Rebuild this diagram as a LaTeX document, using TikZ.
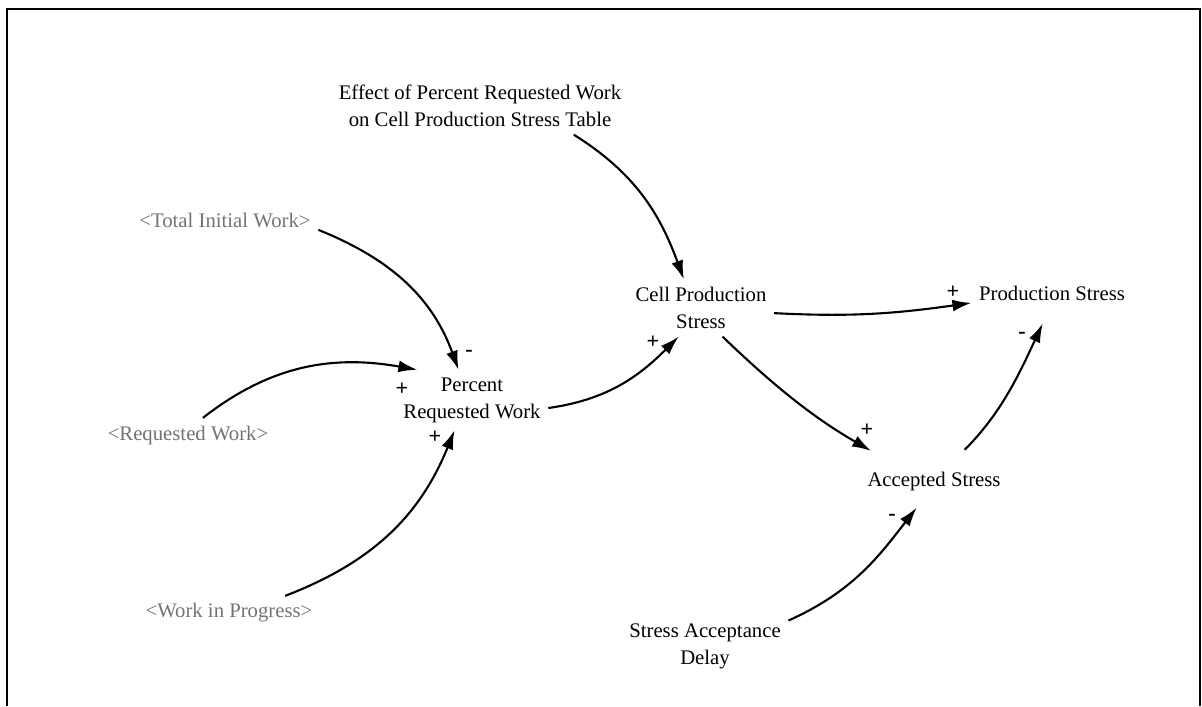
\documentclass[tikz,border=0pt]{standalone}
\usepackage{fontspec}
\setmainfont{Liberation Serif}
\usetikzlibrary{arrows.meta}

\begin{document}
\begin{tikzpicture}[x=1cm,y=1cm,
  var/.style={font=\fontsize{5.9}{7.7}\selectfont, align=center, inner sep=2pt},
  shadow/.style={var, text=black!55},
  pol/.style={font=\fontsize{6.3}{7}\selectfont\bfseries, inner sep=0pt},
  link/.style={-{Latex[length=0.19cm,width=0.12cm]}, line width=0.6pt}]
  \useasboundingbox (0,0) rectangle (12.02,7.06);
  \draw[line width=0.8pt] (0.07,0) -- (0.07,6.97) -- (12.00,6.97) -- (12.00,0);

  % variables
  \node[var] (effect) at (4.80,6.00) {Effect of Percent Requested Work\\on Cell Production Stress Table};
  \node[shadow] (total) at (2.25,4.86) {<Total Initial Work>};
  \node[shadow] (reqw) at (1.88,2.71) {<Requested Work>};
  \node[shadow] (wip) at (2.29,0.93) {<Work in Progress>};
  \node[var] (percent) at (4.72,3.06) {Percent\\Requested Work};
  \node[var] (cell) at (7.01,3.98) {Cell Production\\Stress};
  \node[var] (prod) at (10.52,4.13) {Production Stress};
  \node[var] (acc) at (9.34,2.25) {Accepted Stress};
  \node[var] (delay) at (7.05,0.60) {Stress Acceptance\\Delay};

  % causal links
  \draw[link] (effect.-17) to[out=-32,in=110] (cell.121);
  \draw[link] (total.-6) to[out=-22,in=110] (percent.114);
  \draw[link] (reqw.49) to[out=38,in=170] (percent.151);
  \draw[link] (wip.17) to[out=21,in=-112] (percent.-120);
  \draw[link] (percent.-6) to[out=8,in=-135] (cell.-128);
  \draw[link] (cell.-4) to[out=-3,in=188] (prod.187);
  \draw[link,shorten >=0.26cm] (cell.-53) to[out=-44,in=150] (acc.157);
  \draw[link,shorten <=0.2cm,shorten >=0.17cm] (acc.46) to[out=45,in=-115] (prod.-98);
  \draw[link,shorten >=0.12cm] (delay.17) to[out=24,in=-128] (acc.-120);

  % polarities
  \node[pol] (p1) at (4.69,3.53) {-};
  \node[pol] (p2) at (4.02,3.17) {+};
  \node[pol] (p3) at (4.35,2.69) {+};
  \node[pol] (p4) at (6.53,3.64) {+};
  \node[pol] (p5) at (9.53,4.14) {+};
  \node[pol] (p6) at (10.22,3.71) {-};
  \node[pol] (p7) at (8.67,2.76) {+};
  \node[pol] (p8) at (8.92,1.89) {-};
\end{tikzpicture}
\end{document}
